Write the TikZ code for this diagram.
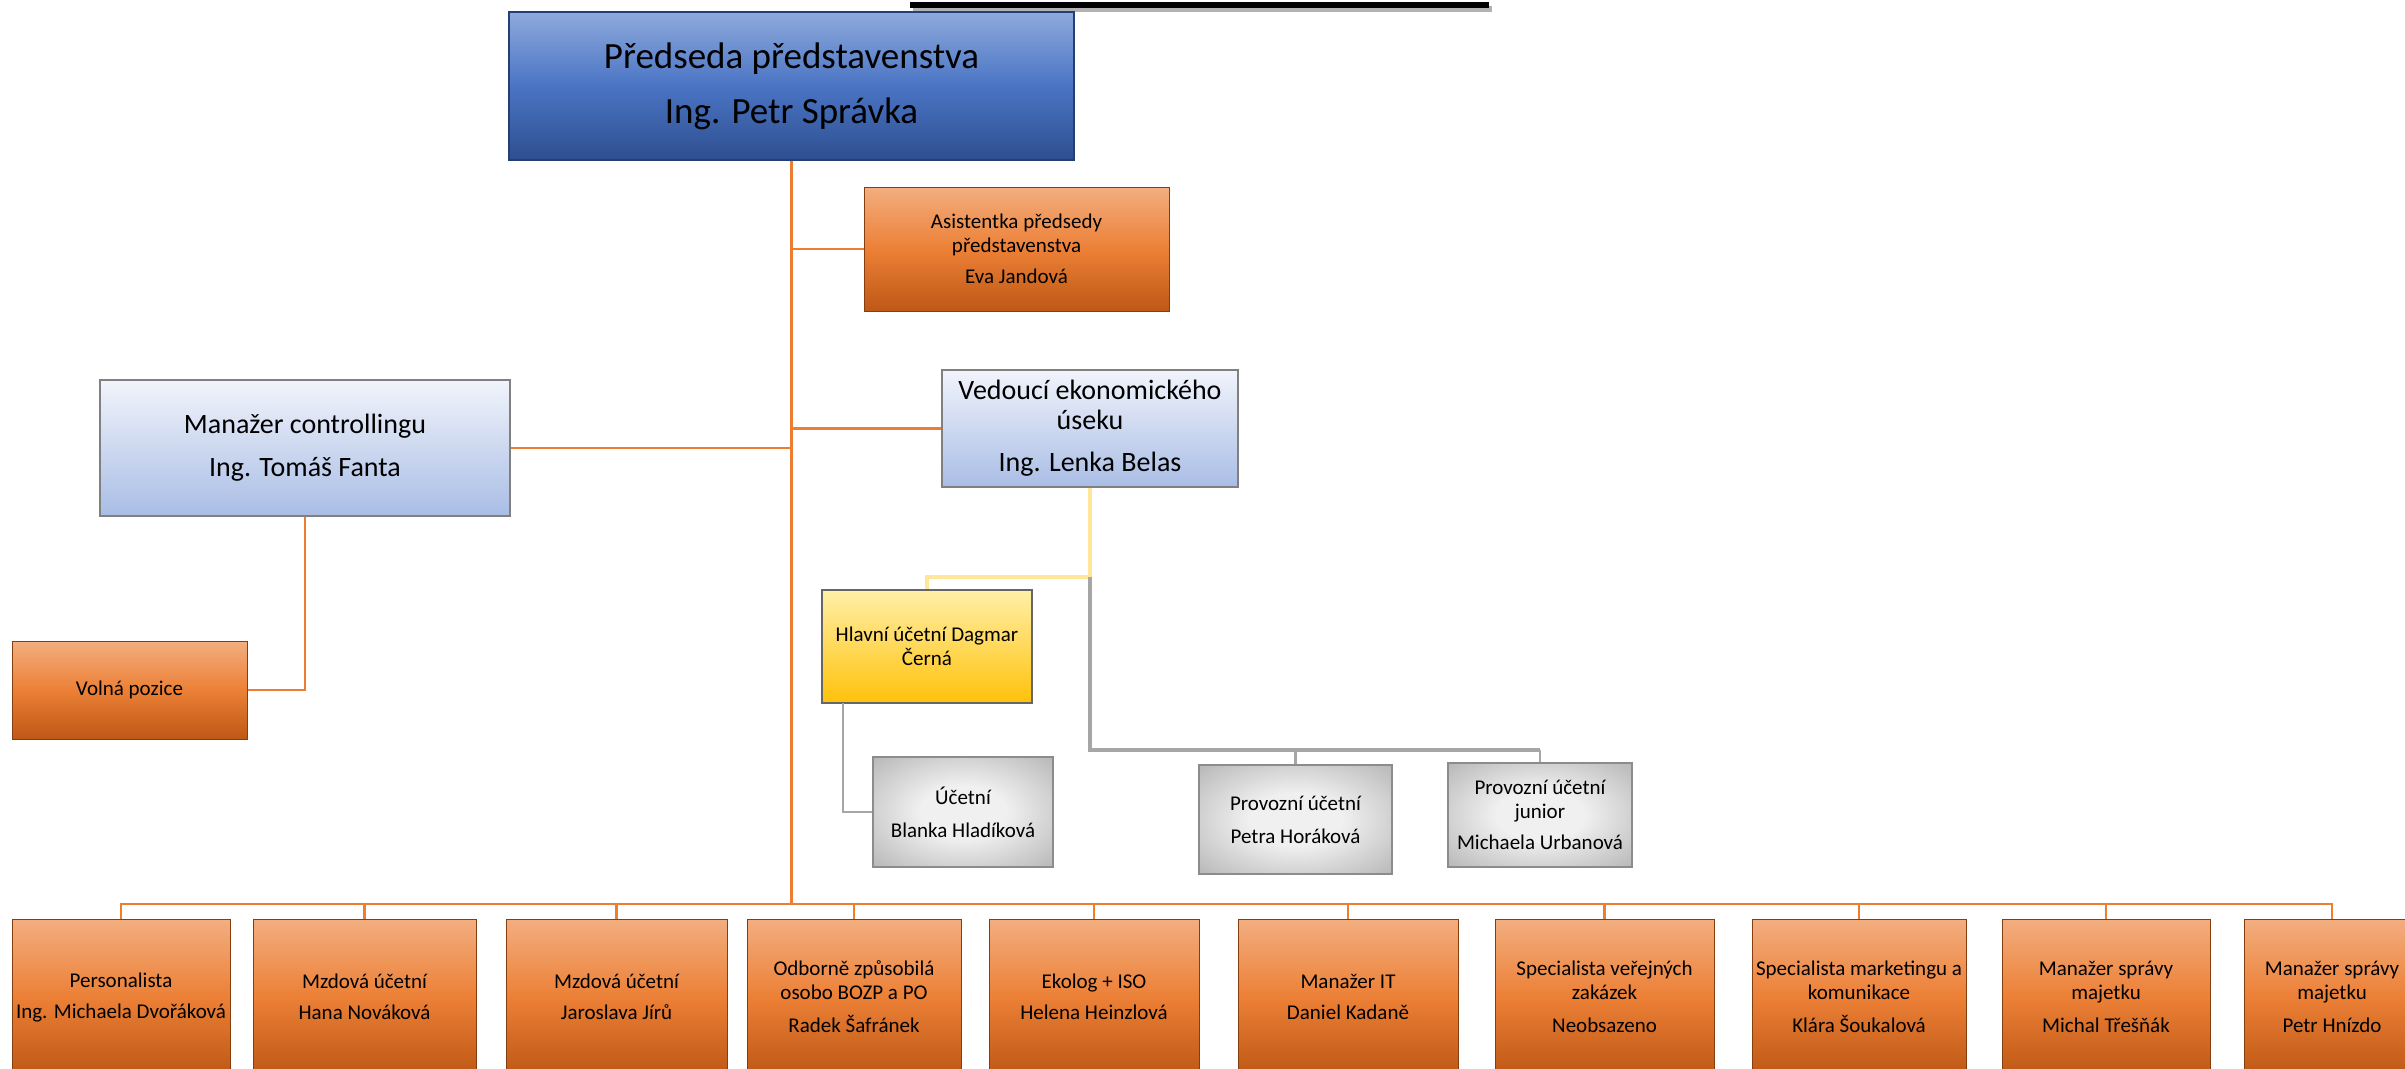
\documentclass[tikz,border=0pt]{standalone}
\usepackage{fontspec}
\setmainfont{Carlito}
\usetikzlibrary{calc}
\definecolor{orline}{HTML}{ED7D31}
\definecolor{orA}{HTML}{F3AE80}
\definecolor{orB}{HTML}{EC8036}
\definecolor{orC}{HTML}{BE5815}
\definecolor{blA}{HTML}{8EAADC}
\definecolor{blB}{HTML}{4A74C4}
\definecolor{blC}{HTML}{2E4F8F}
\definecolor{lbA}{HTML}{F1F4FB}
\definecolor{lbB}{HTML}{A9BDE5}
\definecolor{ylA}{HTML}{FFEFA8}
\definecolor{ylB}{HTML}{FFC20A}
\definecolor{ylline}{HTML}{FFE699}
\definecolor{grline}{HTML}{A6A6A6}
\definecolor{grA}{HTML}{F0F0F0}
\definecolor{grB}{HTML}{999999}
\newcommand\fsmall{\fontsize{21}{24}\selectfont}
\newcommand\fmed{\fontsize{28}{30}\selectfont}
\newcommand\fbig{\fontsize{37}{44}\selectfont}
\pgfdeclareradialshading{grshade}{\pgfpoint{0bp}{0bp}}{color(0bp)=(grA); color(12bp)=(grA); color(48bp)=(grB); color(60bp)=(grB)}
\tikzset{
  basebox/.style={rectangle, inner sep=2pt, align=center, font=\fsmall},
  orbox/.style={basebox, draw=orC!70!black, line width=1, top color=orA, bottom color=orC, middle color=orB},
  topbox/.style={basebox, font=\fbig, draw=blC!80!black, line width=1.2, top color=blA, bottom color=blC, middle color=blB},
  lbbox/.style={basebox, font=\fmed, draw=gray, line width=1.2, top color=lbA, bottom color=lbB},
  ylbox/.style={basebox, draw=gray!80!black, line width=1.2, top color=ylA, bottom color=ylB},
  grbox/.style={basebox, draw=gray!90, line width=1.6, shading=grshade},
  orconn/.style={draw=orline, line width=2.5},
  ylconn/.style={draw=ylline, line width=4.5},
  grconn/.style={draw=grline, line width=3.5},
  grthin/.style={draw=grline, line width=2.5},
}
\begin{document}
\begin{tikzpicture}[x=1pt,y=-1pt]
\useasboundingbox (0,0) rectangle (2405,1068);
\clip (0,0) rectangle (2405,1068);
% top decorative bar
\draw[line width=6, gray!60] (913,9) -- (1492,9);
\draw[line width=6, black] (910,5) -- (1489,5);

% nodes
\node[topbox, minimum width=565, minimum height=148] (top) at (791.5,86) {Předseda představenstva\\[11pt]Ing. Petr Správka};
\node[orbox, minimum width=305, minimum height=124] (asst) at (1016.5,249) {Asistentka předsedy\\představenstva\\[7pt]Eva Jandová};
\node[lbbox, minimum width=296, minimum height=117] (ved) at (1090,428.5) {Vedoucí ekonomického\\úseku\\[12pt]Ing. Lenka Belas};
\node[lbbox, minimum width=410, minimum height=136] (mgr) at (305,448) {Manažer controllingu\\[13pt]Ing. Tomáš Fanta};
\node[orbox, minimum width=235, minimum height=98] (volna) at (129.5,690) {Volná pozice};
\node[ylbox, minimum width=210, minimum height=113] (hlavni) at (927,646.5) {Hlavní účetní Dagmar\\Černá};
\node[grbox, minimum width=180, minimum height=110] (ucetni) at (963,812) {Účetní\\[9pt]Blanka Hladíková};
\node[grbox, minimum width=193, minimum height=109] (provozni) at (1295.5,819.5) {Provozní účetní\\[9pt]Petra Horáková};
\node[grbox, minimum width=184, minimum height=104] (junior) at (1540,815) {Provozní účetní\\junior\\[7pt]Michaela Urbanová};

\node[orbox, minimum width=218, minimum height=156] (b1) at (121,997) {Personalista\\[7pt]Ing. Michaela Dvořáková};
\node[orbox, minimum width=223, minimum height=156] (b2) at (364.5,997) {Mzdová účetní\\[7pt]Hana Nováková};
\node[orbox, minimum width=221, minimum height=156] (b3) at (616.5,997) {Mzdová účetní\\[7pt]Jaroslava Jírů};
\node[orbox, minimum width=214, minimum height=156] (b4) at (854,997) {Odborně způsobilá\\osobo BOZP a PO\\[9pt]Radek Šafránek};
\node[orbox, minimum width=210, minimum height=156] (b5) at (1094,997) {Ekolog + ISO\\[7pt]Helena Heinzlová};
\node[orbox, minimum width=220, minimum height=156] (b6) at (1348,997) {Manažer IT\\[7pt]Daniel Kadaně};
\node[orbox, minimum width=219, minimum height=156] (b7) at (1604.5,997) {Specialista veřejných\\zakázek\\[9pt]Neobsazeno};
\node[orbox, minimum width=214, minimum height=156] (b8) at (1859,997) {Specialista marketingu a\\komunikace\\[9pt]Klára Šoukalová};
\node[orbox, minimum width=208, minimum height=156] (b9) at (2106,997) {Manažer správy\\majetku\\[9pt]Michal Třešňák};
\node[orbox, minimum width=176, minimum height=156] (b10) at (2332,997) {Manažer správy\\majetku\\[9pt]Petr Hnízdo};

% coordinates
\coordinate (bus) at (791.5,904);
\coordinate (vj) at (1090,577);
\coordinate (gb) at (1090,750);
\coordinate (hj) at (843,703);

% orange connectors
\draw[orconn] (top.south) -- (bus);
\draw[orconn] (top.south |- asst.west) -- (asst.west);
\draw[orconn] (top.south |- ved.west) -- (ved.west);
\draw[orconn] (mgr.east) -- (top.south |- mgr.east);
\draw[orconn] (mgr.south) |- (volna.east);
\foreach \b in {b1,b2,b3,b4,b5,b6,b7,b8,b9,b10}{
  \draw[orconn] (bus) -| (\b.north);
}
% yellow connector
\draw[ylconn] (ved.south) -- (vj) -| (hlavni.north);
% gray connectors
\draw[grconn] (vj) -- (gb) -- (gb -| junior.north);
\draw[grthin] (gb -| provozni.north) -- (provozni.north);
\draw[grthin] (gb -| junior.north) -- (junior.north);
\draw[grthin] (hj) |- (ucetni.west);
\end{tikzpicture}
\end{document}
